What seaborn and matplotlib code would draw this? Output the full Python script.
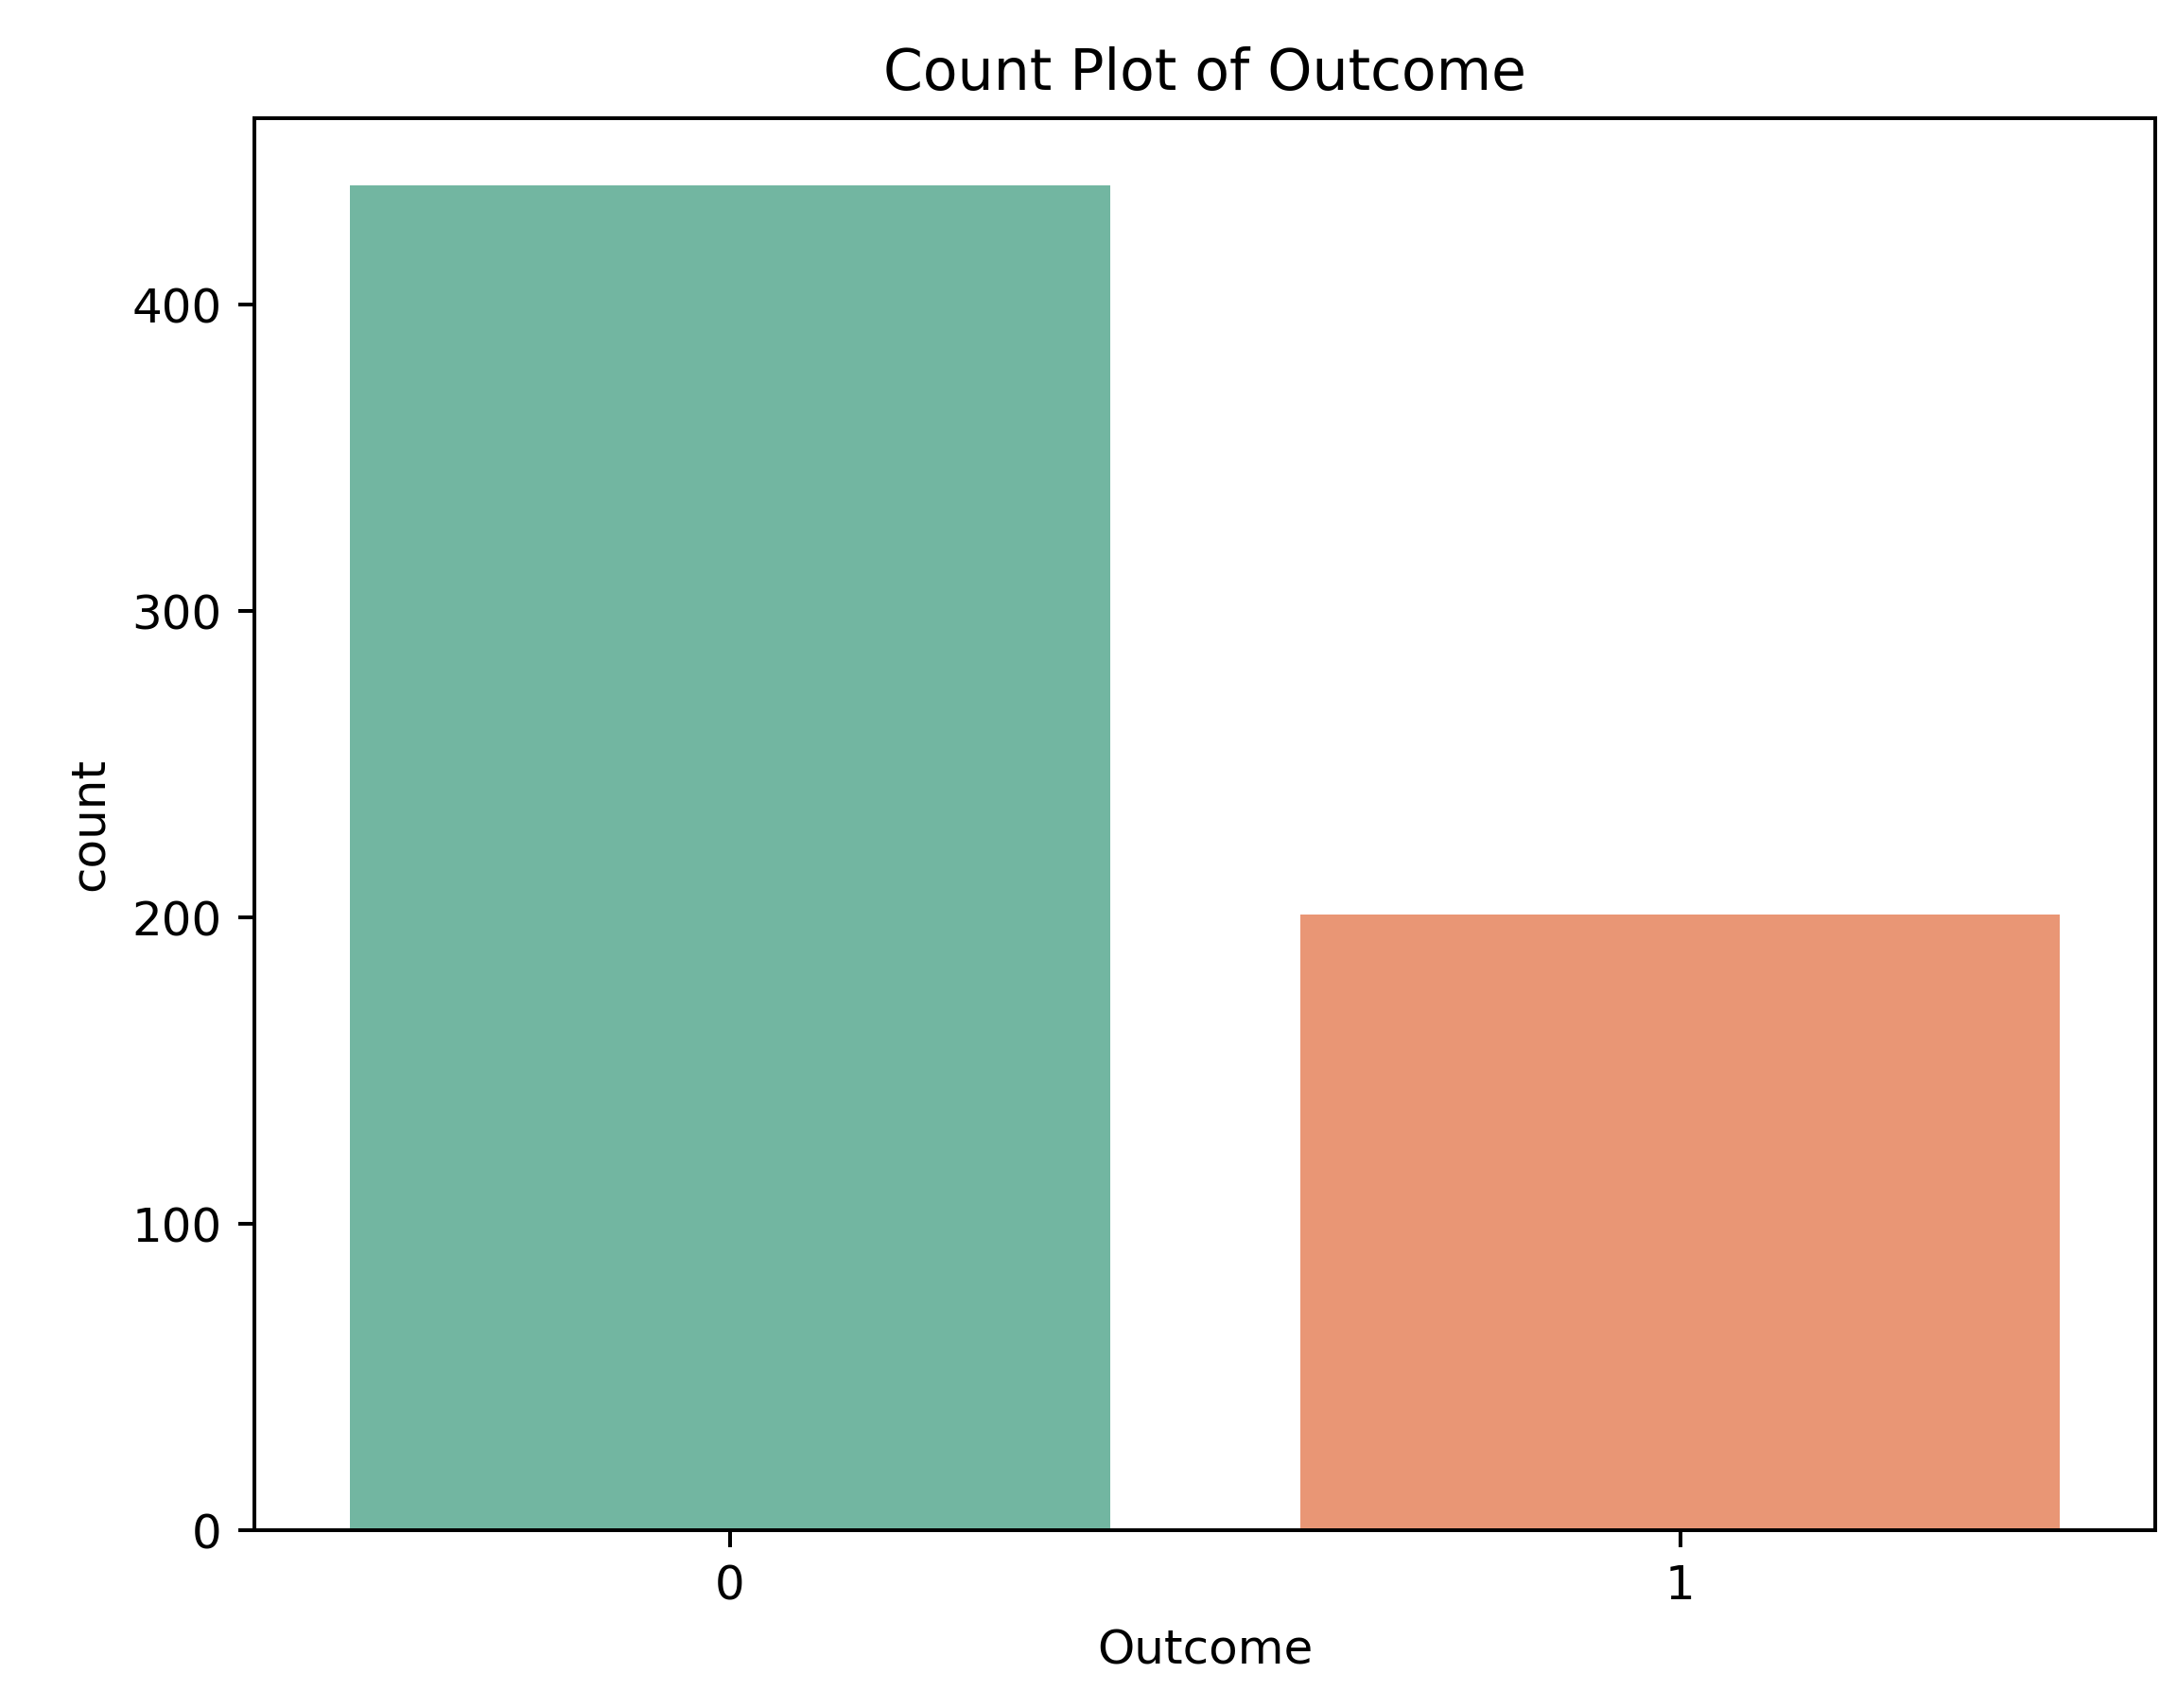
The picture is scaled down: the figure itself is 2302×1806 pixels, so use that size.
import matplotlib
matplotlib.use("Agg")
import matplotlib.pyplot as plt
import seaborn as sns
import pandas as pd

categories = ["0", "1"]
counts = [439, 201]

df = pd.DataFrame({"Outcome": categories, "count": counts})
fig = plt.figure(figsize=(2302/360, 1806/360), dpi=360)
ax = fig.add_axes([0.117, 0.104, 0.873, 0.827])
sns.barplot(data=df, x="Outcome", y="count", hue="Outcome", palette="Set2", legend=False, ax=ax)
ax.set_title("Count Plot of Outcome")
ax.set_yticks([0, 100, 200, 300, 400])
fig.savefig("out.png", dpi=360)
